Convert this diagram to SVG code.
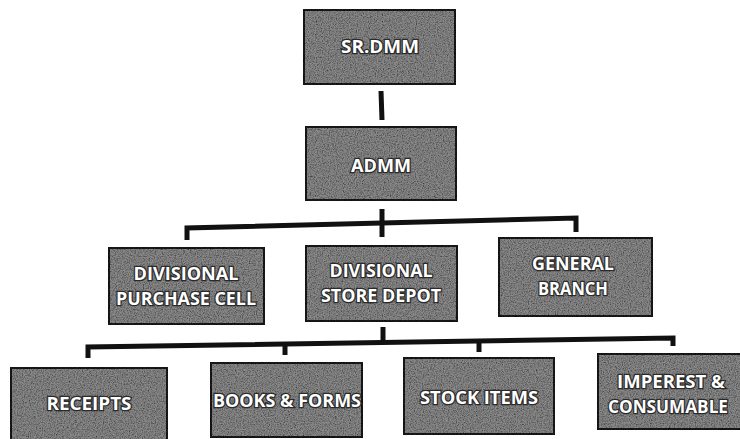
<svg xmlns="http://www.w3.org/2000/svg" width="740" height="439" viewBox="0 0 740 439">
<style>
.box{fill:#8a8a8a;stroke:#1a1a1a;stroke-width:4}
.t{font-family:"Open Sans","Noto Sans",sans-serif;font-weight:700;font-size:18px;fill:#ffffff;stroke:#2a2a2a;stroke-width:2.5;paint-order:stroke;text-anchor:middle}
.c{fill:none;stroke:#111;stroke-width:5;stroke-linejoin:miter;stroke-linecap:butt}
</style>
<defs>
<filter id="grain" x="0" y="0" width="100%" height="100%">
<feTurbulence type="fractalNoise" baseFrequency="0.85" numOctaves="2" seed="4" result="n"/>
<feColorMatrix in="n" type="matrix" values="0 0 0 0 0  0 0 0 0 0  0 0 0 0 0  0 0 0 1.6 -0.55" result="dark"/>
<feComposite in="dark" in2="SourceGraphic" operator="atop"/>
</filter>
</defs>
<rect width="740" height="439" fill="#ffffff"/>
<g id="connectors">
<line class="c" x1="381" y1="91" x2="382" y2="120"/>
<line class="c" x1="382" y1="209" x2="382" y2="237"/>
<polyline class="c" points="187,240 187,228 576,218 576,232"/>
<line class="c" x1="383" y1="327" x2="383" y2="343"/>
<polyline class="c" points="88,358 88,347 673,338 673,346"/>
<line class="c" x1="285" y1="344" x2="285" y2="355"/>
<line class="c" x1="479" y1="341" x2="479" y2="352"/>
</g>
<g id="srdmm">
<rect class="box" x="303" y="9" width="153" height="76" filter="url(#grain)"/>
<text class="t" x="380" y="53" textLength="78" lengthAdjust="spacingAndGlyphs">SR.DMM</text>
</g>
<g id="admm">
<rect class="box" x="305" y="126" width="152" height="75" filter="url(#grain)"/>
<text class="t" x="381" y="172" textLength="60" lengthAdjust="spacingAndGlyphs">ADMM</text>
</g>
<g id="purchase">
<rect class="box" x="108" y="247" width="157" height="78" filter="url(#grain)"/>
<text class="t" x="186" y="280" textLength="105" lengthAdjust="spacingAndGlyphs">DIVISIONAL</text>
<text class="t" x="186" y="305" textLength="140" lengthAdjust="spacingAndGlyphs">PURCHASE CELL</text>
</g>
<g id="store">
<rect class="box" x="305" y="245" width="153" height="77" filter="url(#grain)"/>
<text class="t" x="381" y="277" textLength="103" lengthAdjust="spacingAndGlyphs">DIVISIONAL</text>
<text class="t" x="381" y="302" textLength="120" lengthAdjust="spacingAndGlyphs">STORE DEPOT</text>
</g>
<g id="general">
<rect class="box" x="498" y="237" width="155" height="80" filter="url(#grain)"/>
<text class="t" x="573" y="270" textLength="82" lengthAdjust="spacingAndGlyphs">GENERAL</text>
<text class="t" x="573" y="295" textLength="70" lengthAdjust="spacingAndGlyphs">BRANCH</text>
</g>
<g id="receipts">
<rect class="box" x="10" y="367" width="158" height="80" filter="url(#grain)"/>
<text class="t" x="89" y="410" textLength="85" lengthAdjust="spacingAndGlyphs">RECEIPTS</text>
</g>
<g id="books">
<rect class="box" x="210" y="362" width="153" height="76" filter="url(#grain)"/>
<text class="t" x="287" y="407" textLength="148" lengthAdjust="spacingAndGlyphs">BOOKS &amp; FORMS</text>
</g>
<g id="stock">
<rect class="box" x="403" y="357" width="152" height="78" filter="url(#grain)"/>
<text class="t" x="479" y="404" textLength="118" lengthAdjust="spacingAndGlyphs">STOCK ITEMS</text>
</g>
<g id="imperest">
<rect class="box" x="597" y="353" width="160" height="77" filter="url(#grain)"/>
<text class="t" x="671" y="388" textLength="108" lengthAdjust="spacingAndGlyphs">IMPEREST &amp;</text>
<text class="t" x="668" y="413" textLength="120" lengthAdjust="spacingAndGlyphs">CONSUMABLE</text>
</g>
</svg>
